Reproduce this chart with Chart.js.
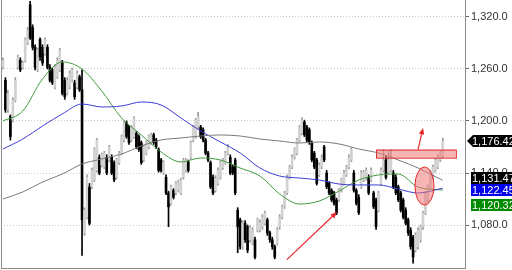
<!DOCTYPE html>
<html>
<head>
<meta charset="utf-8">
<script src="https://cdn.jsdelivr.net/npm/chart.js@4.4.0/dist/chart.umd.min.js"></script>
<style>
html, body { margin: 0; padding: 0; background: #fff; }
</style>
</head>
<body>
<canvas id="chart" width="512" height="270"></canvas>
<script>
// daily bars
const opens = [
  1262,1247,1213,1205,1201,1224,1262,1270,1262,1270,
  1290,1334,1308,1285,1259,1294,1285,1278,1285,1262,
  1259,1239,1251,1259,1267,1247,1232,1239,1247,1244,
  1239,1251,1236,1071,1089,1124,1124,1132,1143,1158,
  1149,1147,1158,1155,1158,1152,1135,1152,1163,1178,
  1198,1193,1178,1182,1186,1182,1175,1155,1163,1170,
  1175,1184,1178,1167,1155,1140,1135,1117,1105,1120,
  1117,1120,1117,1135,1143,1153,1158,1178,1182,1193,
  1193,1190,1178,1163,1152,1135,1120,1128,1135,1146,
  1152,1163,1158,1147,1155,1097,1086,1055,1082,1078,
  1063,1059,1063,1074,1074,1078,1082,1086,1071,1063,
  1055,1059,1078,1089,1101,1117,1135,1147,1158,1163,
  1178,1186,1199,1193,1190,1175,1163,1155,1138,1147,
  1170,1140,1128,1120,1117,1109,1109,1120,1128,1138,
  1147,1155,1140,1120,1112,1124,1132,1134,1135,1132,
  1117,1109,1097,1128,1143,1155,1141,1143,1140,1135,
  1124,1117,1109,1097,1086,1074,1066,1051,1055,1063,
  1078,1094,1109,1124,1135,1143,1147,1155,1160
];
const highs = [
  1273,1250,1235,1207,1227,1250,1276,1273,1269,1296,
  1308,1338,1311,1288,1284,1296,1288,1296,1288,1265,
  1261,1265,1273,1284,1270,1250,1250,1258,1261,1247,
  1258,1253,1259,1100,1138,1128,1146,1169,1180,1161,
  1163,1165,1161,1172,1161,1154,1157,1165,1184,1200,
  1200,1195,1195,1205,1188,1184,1177,1172,1177,1184,
  1186,1186,1180,1169,1157,1154,1138,1119,1126,1122,
  1130,1132,1134,1157,1157,1155,1177,1195,1203,1210,
  1195,1192,1180,1165,1154,1138,1137,1146,1154,1157,
  1165,1173,1161,1149,1157,1100,1088,1085,1085,1080,
  1079,1077,1066,1088,1086,1092,1096,1088,1073,1066,
  1057,1077,1092,1103,1119,1138,1149,1161,1169,1180,
  1195,1204,1201,1195,1192,1177,1165,1157,1152,1161,
  1172,1143,1130,1122,1119,1111,1122,1134,1143,1149,
  1161,1169,1143,1122,1115,1143,1143,1146,1138,1146,
  1119,1111,1119,1146,1167,1160,1165,1167,1143,1138,
  1126,1119,1111,1100,1088,1077,1068,1071,1077,1080,
  1096,1119,1126,1143,1149,1157,1161,1165,1180
];
const lows = [
  1260,1210,1210,1178,1199,1222,1260,1257,1260,1268,
  1288,1294,1282,1259,1257,1270,1264,1276,1260,1245,
  1242,1237,1249,1257,1230,1225,1230,1237,1245,1225,
  1237,1234,1045,1068,1087,1080,1122,1130,1141,1138,
  1147,1145,1138,1153,1138,1130,1133,1150,1161,1176,
  1180,1173,1176,1180,1168,1165,1150,1153,1161,1168,
  1173,1173,1168,1141,1141,1138,1115,1078,1103,1110,
  1115,1118,1115,1133,1141,1141,1156,1176,1180,1191,
  1180,1176,1161,1153,1122,1115,1118,1126,1133,1144,
  1150,1161,1138,1138,1115,1048,1052,1052,1060,1048,
  1060,1057,1041,1072,1072,1075,1080,1068,1060,1052,
  1041,1057,1075,1087,1099,1115,1133,1145,1156,1161,
  1176,1184,1182,1176,1173,1153,1145,1126,1136,1145,
  1153,1122,1115,1107,1103,1092,1107,1118,1126,1136,
  1145,1153,1118,1103,1092,1122,1130,1132,1115,1130,
  1099,1075,1095,1126,1141,1133,1139,1141,1122,1115,
  1107,1095,1087,1080,1068,1052,1036,1049,1052,1060,
  1075,1092,1107,1122,1133,1141,1145,1153,1157
];
const closes = [
  1270,1213,1232,1182,1224,1247,1274,1259,1267,1294,
  1305,1296,1285,1262,1282,1274,1267,1294,1262,1247,
  1244,1262,1270,1282,1232,1228,1247,1255,1259,1228,
  1255,1236,1086,1097,1135,1082,1143,1167,1178,1140,
  1161,1163,1140,1170,1140,1132,1155,1163,1182,1198,
  1182,1175,1193,1203,1170,1167,1152,1170,1175,1182,
  1184,1175,1170,1143,1143,1152,1117,1101,1124,1112,
  1128,1130,1132,1155,1155,1143,1175,1193,1201,1205,
  1182,1178,1163,1155,1124,1117,1134,1143,1152,1155,
  1163,1170,1140,1140,1117,1078,1055,1082,1063,1051,
  1077,1074,1043,1086,1083,1089,1094,1071,1063,1055,
  1043,1074,1089,1101,1117,1135,1147,1158,1167,1178,
  1193,1201,1184,1178,1176,1155,1147,1128,1149,1158,
  1155,1124,1117,1109,1105,1094,1120,1132,1140,1147,
  1158,1167,1120,1105,1094,1140,1141,1143,1117,1143,
  1101,1078,1117,1143,1155,1135,1155,1158,1124,1117,
  1109,1097,1089,1082,1071,1055,1043,1068,1074,1078,
  1094,1117,1124,1140,1147,1155,1158,1163,1176.42
];

// moving averages, sampled at these bar numbers
const maDays  = [0, 8, 16, 24, 32, 40, 48, 56, 64, 72, 80, 88, 96, 104, 112, 120, 128, 136, 144, 152, 160, 168, 178];
const maGreen = [1200, 1211.5, 1248.5, 1268.1, 1260, 1234.6, 1203.5, 1183.9, 1164.2, 1152.7, 1157.3, 1155, 1145.8, 1136.5, 1115.8, 1104.2, 1107.7, 1119.2, 1131.9, 1137.7, 1138.8, 1123.8, 1120.32];
const maBlue  = [1167.7, 1179.2, 1194.2, 1208.1, 1219.6, 1216.2, 1217.3, 1221.9, 1218.5, 1203.5, 1188.5, 1175.8, 1163.1, 1145.8, 1136.5, 1134.2, 1131.9, 1127.3, 1126.2, 1126.2, 1121.5, 1116.9, 1122.45];
const maGray  = [1110, 1118.1, 1129.6, 1138.8, 1150.4, 1156.2, 1161.9, 1171.2, 1178.1, 1180.4, 1182.7, 1183.9, 1182.7, 1179.2, 1176.9, 1174.6, 1175.8, 1173.5, 1167.7, 1163.1, 1155, 1145.8, 1131.47];

const tickValues = [1080, 1140, 1200, 1260, 1320];
const tagValues  = [1176.42, 1131.47, 1122.45, 1120.32];
const tagColors  = ['#000', '#000', '#0000ee', '#008a00'];
const tagNudge   = [0, -2, 2, 15];

// drawn-in markings, in bar number / price
const arrows = [
  { from: [114.9, 1040], to: [135.2, 1095] },
  { from: [168, 1167], to: [170, 1192] }
];
const zone = { x0: 151, x1: 183.3, y0: 1157.7, y1: 1167 };
const ring = { x: 170.6, y: 1125, rx: 3.85, ry: 22 };

const isUp = i => closes[i] >= opens[i];
const wicks = closes.map((c, i) => ({ x: i, y: [lows[i], highs[i]] }));
const bodies = closes.map((c, i) => ({ x: i, y: [opens[i], closes[i]] }));
const maLine = vals => maDays.map((d, i) => ({ x: d, y: vals[i] }));

const fmt = v => v.toLocaleString('en-US', { minimumFractionDigits: 1, maximumFractionDigits: 1 });

const overlay = {
  id: 'overlay',
  afterDatasetsDraw(chart) {
    const ctx = chart.ctx, xs = chart.scales.x, ys = chart.scales.y;
    const px = v => xs.getPixelForValue(v), py = v => ys.getPixelForValue(v);
    ctx.save();
    // zone box
    ctx.fillStyle = 'rgba(242,130,130,0.6)';
    ctx.strokeStyle = '#e02a2a';
    ctx.lineWidth = 1;
    const x0 = px(zone.x0), x1 = px(zone.x1), y0 = py(zone.y1), y1 = py(zone.y0);
    ctx.fillRect(x0, y0, x1 - x0, y1 - y0);
    ctx.strokeRect(x0 + 0.5, y0 + 0.5, x1 - x0, y1 - y0);
    // ring
    ctx.beginPath();
    ctx.ellipse(px(ring.x), py(ring.y), px(ring.x + ring.rx) - px(ring.x), py(ring.y - ring.ry) - py(ring.y), 0, 0, Math.PI * 2);
    ctx.fillStyle = 'rgba(242,120,120,0.55)';
    ctx.fill();
    ctx.stroke();
    // arrows
    arrows.forEach(a => {
      const ax = px(a.from[0]), ay = py(a.from[1]), bx = px(a.to[0]), by = py(a.to[1]);
      const ang = Math.atan2(by - ay, bx - ax);
      ctx.strokeStyle = '#e8262a';
      ctx.fillStyle = '#e8262a';
      ctx.lineWidth = 1.2;
      ctx.beginPath();
      ctx.moveTo(ax, ay);
      ctx.lineTo(bx - 4 * Math.cos(ang), by - 4 * Math.sin(ang));
      ctx.stroke();
      ctx.beginPath();
      ctx.moveTo(bx, by);
      ctx.lineTo(bx - 7 * Math.cos(ang - 0.4), by - 7 * Math.sin(ang - 0.4));
      ctx.lineTo(bx - 7 * Math.cos(ang + 0.4), by - 7 * Math.sin(ang + 0.4));
      ctx.closePath();
      ctx.fill();
    });
    ctx.restore();
  },
  afterDraw(chart) {
    const ctx = chart.ctx, ys = chart.scales.y;
    const left = chart.chartArea.right;
    ctx.save();
    ctx.font = '11px "Liberation Sans", Arial, sans-serif';
    ctx.textBaseline = 'middle';
    tagValues.forEach((v, i) => {
      const cy = Math.round(ys.getPixelForValue(v)) + tagNudge[i];
      ctx.fillStyle = tagColors[i];
      ctx.beginPath();
      if (i === 0) {
        ctx.moveTo(left + 2, cy);
        ctx.lineTo(left + 8, cy - 6);
        ctx.lineTo(512, cy - 6);
        ctx.lineTo(512, cy + 6);
        ctx.lineTo(left + 8, cy + 6);
      } else {
        ctx.rect(left + 6, cy - 6, 512 - left - 6, 12);
      }
      ctx.closePath();
      ctx.fill();
      ctx.fillStyle = '#fff';
      ctx.fillText(v.toLocaleString('en-US', { minimumFractionDigits: 2 }), left + 7, cy + 0.5);
    });
    ctx.restore();
  }
};

new Chart(document.getElementById('chart'), {
  type: 'bar',
  data: {
    datasets: [
      { type: 'line', yAxisID: 'y', data: maLine(maGray), borderColor: '#7a7a7a', borderWidth: 1, pointRadius: 0, cubicInterpolationMode: 'monotone', order: 0 },
      { type: 'line', yAxisID: 'y', data: maLine(maBlue), borderColor: '#3c3cd8', borderWidth: 1, pointRadius: 0, cubicInterpolationMode: 'monotone', order: 0 },
      { type: 'line', yAxisID: 'y', data: maLine(maGreen), borderColor: '#3f9a3f', borderWidth: 1, pointRadius: 0, cubicInterpolationMode: 'monotone', order: 0 },
      {
        yAxisID: 'y', data: bodies, grouped: false, barThickness: 2, order: 1,
        backgroundColor: ctx => isUp(ctx.dataIndex) ? '#d2d2d2' : '#000'
      },
      {
        yAxisID: 'y', data: wicks, grouped: false, barThickness: 1, order: 2,
        backgroundColor: ctx => isUp(ctx.dataIndex) ? '#9a9a9a' : '#000'
      }
    ]
  },
  options: {
    responsive: false,
    animation: false,
    layout: { padding: 0 },
    plugins: { legend: { display: false }, tooltip: { enabled: false } },
    scales: {
      x: {
        type: 'linear', min: -0.8, max: 187, offset: false,
        ticks: { display: false },
        grid: { color: '#c8c8c8', drawTicks: false },
        border: { display: true, color: '#8a8a8a', dash: [1, 2] },
        afterBuildTicks: s => { s.ticks = [{ value: 171.6 }]; },
        afterFit: s => { s.height = 2; s.paddingLeft = 0; s.paddingRight = 0; }
      },
      y: {
        position: 'right', min: 1030.4, max: 1339.6,
        ticks: { color: '#333', font: { size: 11, family: '"Liberation Sans", Arial, sans-serif' }, padding: 2, callback: fmt },
        grid: { color: '#c8c8c8', drawTicks: true, tickLength: 4, tickColor: '#666' },
        border: { display: true, color: '#8a8a8a', dash: [1, 2] },
        afterBuildTicks: s => { s.ticks = tickValues.map(v => ({ value: v })); },
        afterFit: s => { s.width = 47; s.paddingTop = 0; s.paddingBottom = 0; }
      },
      yL: {
        position: 'left', min: 0, max: 1,
        ticks: { display: false },
        grid: { display: false },
        border: { display: true, color: '#8a8a8a' },
        afterFit: s => { s.width = 1; s.paddingTop = 0; s.paddingBottom = 0; }
      }
    }
  },
  plugins: [overlay]
});
</script>
</body>
</html>
